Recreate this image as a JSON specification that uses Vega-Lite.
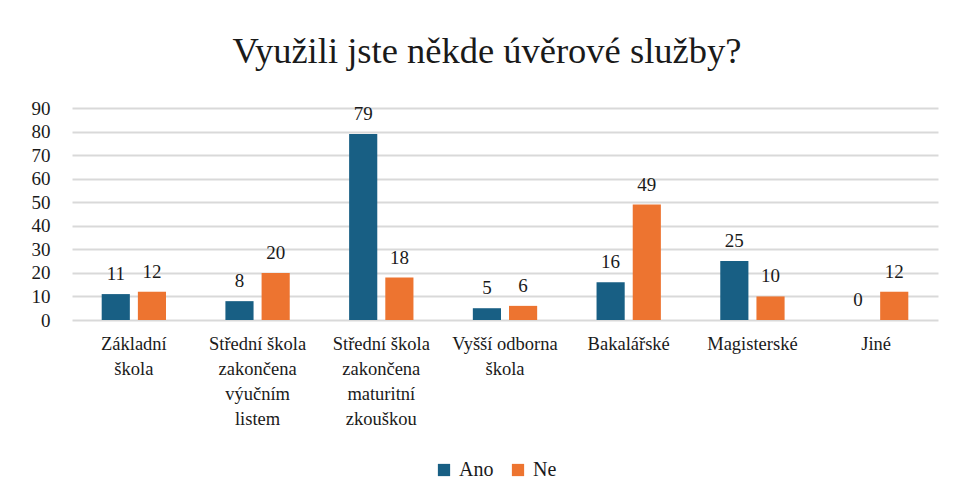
{
  "$schema": "https://vega.github.io/schema/vega-lite/v6.json",
  "width": 866,
  "height": 212,
  "autosize": {"type": "none"},
  "padding": {"left": 72, "top": 108, "right": 16, "bottom": 177},
  "background": "white",
  "title": {
    "text": "Využili jste někde úvěrové  služby?",
    "font": "Liberation Serif",
    "fontSize": 36.5,
    "fontWeight": "normal",
    "color": "#1a1a1a",
    "anchor": "middle",
    "baseline": "alphabetic",
    "offset": 0,
    "dx": -18
  },
  "data": {
    "values": [
      {"kategorie": "Základní|škola", "odpoved": "Ano", "pocet": 11},
      {"kategorie": "Základní|škola", "odpoved": "Ne", "pocet": 12},
      {"kategorie": "Střední škola|zakončena|výučním|listem", "odpoved": "Ano", "pocet": 8},
      {"kategorie": "Střední škola|zakončena|výučním|listem", "odpoved": "Ne", "pocet": 20},
      {"kategorie": "Střední škola|zakončena|maturitní|zkouškou", "odpoved": "Ano", "pocet": 79},
      {"kategorie": "Střední škola|zakončena|maturitní|zkouškou", "odpoved": "Ne", "pocet": 18},
      {"kategorie": "Vyšší odborna|škola", "odpoved": "Ano", "pocet": 5},
      {"kategorie": "Vyšší odborna|škola", "odpoved": "Ne", "pocet": 6},
      {"kategorie": "Bakalářské", "odpoved": "Ano", "pocet": 16},
      {"kategorie": "Bakalářské", "odpoved": "Ne", "pocet": 49},
      {"kategorie": "Magisterské", "odpoved": "Ano", "pocet": 25},
      {"kategorie": "Magisterské", "odpoved": "Ne", "pocet": 10},
      {"kategorie": "Jiné", "odpoved": "Ano", "pocet": 0},
      {"kategorie": "Jiné", "odpoved": "Ne", "pocet": 12}
    ]
  },
  "encoding": {
    "x": {
      "field": "kategorie",
      "type": "nominal",
      "sort": null,
      "scale": {"paddingInner": 0.48, "paddingOuter": 0.24},
      "axis": {
        "title": null,
        "labelAngle": 0,
        "labelExpr": "split(datum.label, '|')",
        "labelFont": "Liberation Serif",
        "labelFontSize": 18.5,
        "labelLineHeight": 25,
        "labelColor": "#1a1a1a",
        "labelPadding": 14,
        "labelBaseline": "top",
        "domain": false,
        "ticks": false,
        "grid": false
      }
    },
    "xOffset": {
      "field": "odpoved",
      "type": "nominal",
      "scale": {"paddingInner": 0.222, "paddingOuter": 0}
    },
    "y": {
      "field": "pocet",
      "type": "quantitative",
      "scale": {"domain": [0, 90], "nice": false},
      "axis": {
        "title": null,
        "values": [0, 10, 20, 30, 40, 50, 60, 70, 80, 90],
        "labelFont": "Liberation Serif",
        "labelFontSize": 19,
        "labelColor": "#1a1a1a",
        "labelPadding": 22,
        "domain": false,
        "ticks": false,
        "gridColor": "#d9d9d9",
        "gridWidth": 2
      }
    }
  },
  "layer": [
    {
      "mark": {"type": "bar"},
      "encoding": {
        "color": {
          "field": "odpoved",
          "type": "nominal",
          "scale": {"domain": ["Ano", "Ne"], "range": ["#185f84", "#ed7430"]},
          "legend": {
            "title": null,
            "orient": "none",
            "legendX": 362,
            "legendY": 352,
            "direction": "horizontal",
            "symbolType": "square",
            "symbolSize": 150,
            "symbolStrokeWidth": 0,
            "labelFont": "Liberation Serif",
            "labelFontSize": 20,
            "labelColor": "#1a1a1a",
            "columnPadding": 14,
            "labelOffset": 5
          }
        }
      }
    },
    {
      "mark": {
        "type": "text",
        "baseline": "alphabetic",
        "dy": -14,
        "font": "Liberation Serif",
        "fontSize": 19,
        "color": "#1a1a1a"
      },
      "encoding": {
        "text": {"field": "pocet", "type": "quantitative"}
      }
    }
  ],
  "config": {
    "font": "Liberation Serif",
    "view": {"stroke": null}
  }
}
